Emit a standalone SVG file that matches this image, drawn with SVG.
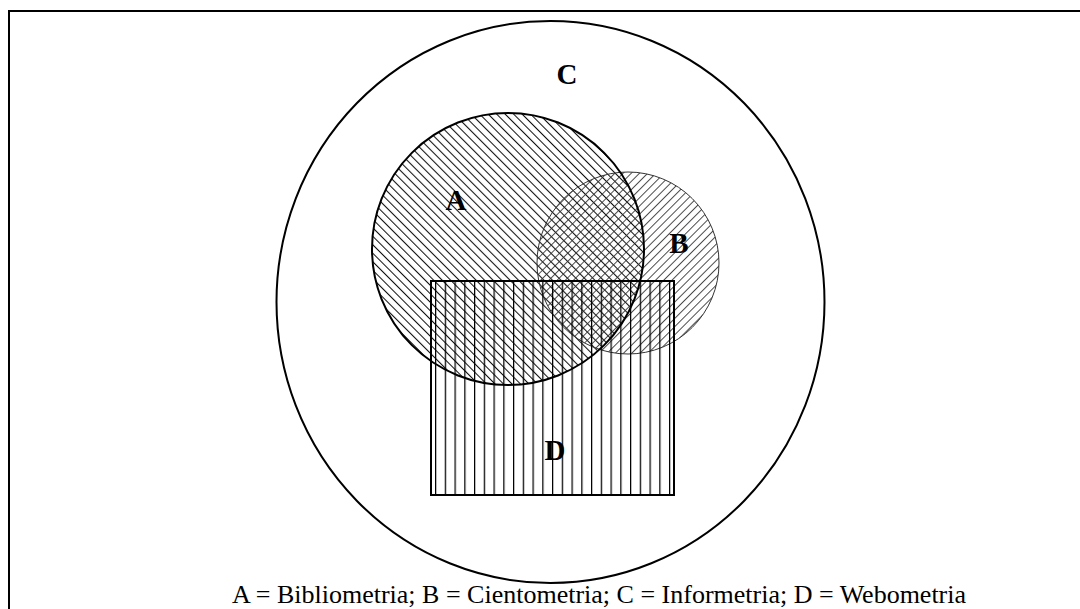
<svg xmlns="http://www.w3.org/2000/svg" width="1080" height="609" viewBox="0 0 1080 609">
<style>
.lbl{font-family:"Liberation Serif","Times New Roman",serif;font-weight:bold;font-size:29px;fill:#000;text-anchor:middle}
.cap{font-family:"Liberation Serif","Times New Roman",serif;font-size:26px;fill:#000;text-anchor:middle}
</style>
<defs>
<pattern id="hatchA" patternUnits="userSpaceOnUse" width="6" height="10" patternTransform="rotate(-45)">
<line x1="0.5" y1="0" x2="0.5" y2="10" stroke="#111" stroke-width="1.1"/>
</pattern>
<pattern id="hatchB" patternUnits="userSpaceOnUse" width="5.8" height="10" patternTransform="rotate(45)">
<line x1="0.5" y1="0" x2="0.5" y2="10" stroke="#333" stroke-width="0.9"/>
</pattern>
<pattern id="hatchD" patternUnits="userSpaceOnUse" x="435" y="0" width="9.75" height="10">
<line x1="0.6" y1="0" x2="0.6" y2="10" stroke="#000" stroke-width="1.3"/>
</pattern>
</defs>
<rect width="1080" height="609" fill="#fff"/>
<g id="frame">
<path d="M9,609 L9,11 L1080,11" fill="none" stroke="#000" stroke-width="2"/>
</g>
<g id="C">
<ellipse cx="550.5" cy="302" rx="274" ry="281" fill="none" stroke="#000" stroke-width="2"/>
<text class="lbl" x="567" y="84">C</text>
</g>
<g id="A">
<circle cx="508" cy="249" r="136" fill="url(#hatchA)" stroke="none"/>
</g>
<g id="B">
<circle cx="628" cy="263" r="91" fill="url(#hatchB)" stroke="#333" stroke-width="1"/>
<text class="lbl" x="679" y="253">B</text>
</g>
<g id="A-outline">
<circle cx="508" cy="249" r="136" fill="none" stroke="#000" stroke-width="2"/>
<text class="lbl" x="456" y="210">A</text>
</g>
<g id="D">
<rect x="431" y="281" width="243" height="214" fill="url(#hatchD)" stroke="#000" stroke-width="2"/>
<text class="lbl" x="555" y="460">D</text>
</g>
<g id="connectors"></g>
<g id="caption">
<text class="cap" x="599" y="603">A = Bibliometria; B = Cientometria; C = Informetria; D = Webometria</text>
</g>
</svg>
